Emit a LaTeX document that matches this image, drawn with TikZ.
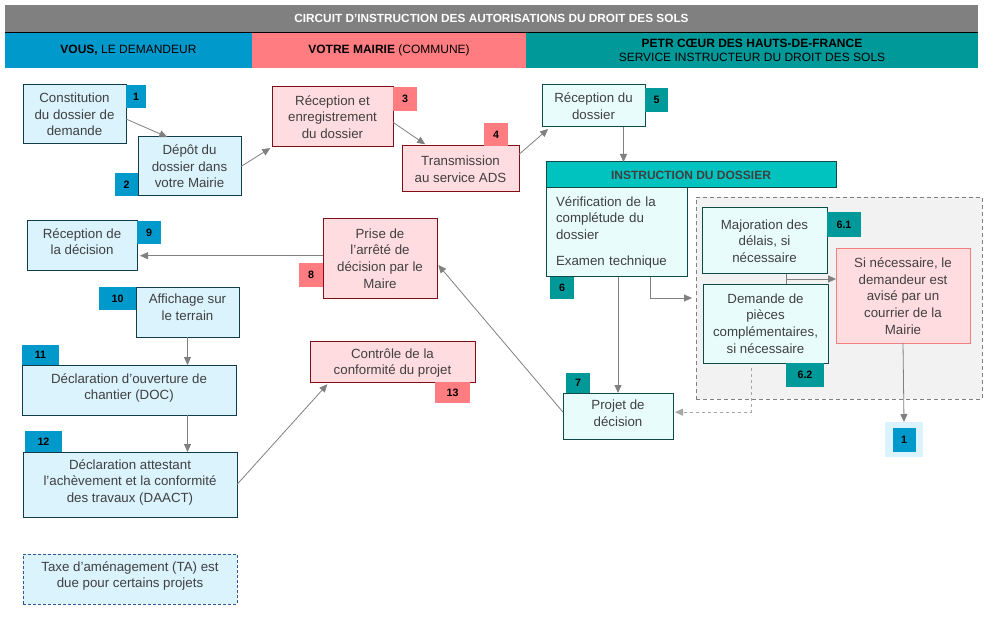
\documentclass[tikz,border=0pt]{standalone}
\usepackage{fontspec}
\setmainfont{Liberation Sans}
\usetikzlibrary{arrows.meta,positioning,calc}
\definecolor{bandgray}{HTML}{808080}
\definecolor{bandblue}{HTML}{0099CC}
\definecolor{bandpink}{HTML}{FF7C80}
\definecolor{bandteal}{HTML}{009999}
\definecolor{blfill}{HTML}{DAF3FD}
\definecolor{blline}{HTML}{123B4C}
\definecolor{pkfill}{HTML}{FFDCE0}
\definecolor{pkline}{HTML}{7F0F12}
\definecolor{tlfill}{HTML}{E9FCFC}
\definecolor{tlline}{HTML}{0E4B47}
\definecolor{tlhead}{HTML}{00C3C0}
\definecolor{zonefill}{HTML}{F2F2F2}
\definecolor{txtgray}{HTML}{404040}
\definecolor{arrgray}{HTML}{808080}
\definecolor{dashgray}{HTML}{A6A6A6}
\definecolor{softred}{HTML}{F08080}
\definecolor{taxline}{HTML}{2F5597}

\begin{document}
\begin{tikzpicture}[x=1pt,y=-1pt,
  every node/.style={inner sep=0pt,outer sep=0pt,align=center,text=txtgray,
    font=\fontsize{13.3}{16.6}\selectfont},
  boxsz/.style 2 args={minimum width=#1pt,minimum height=#2pt},
  blbox/.style={draw=blline,fill=blfill,line width=1pt},
  pkbox/.style={draw=pkline,fill=pkfill,line width=1pt},
  tlbox/.style={draw=tlline,fill=tlfill,line width=1pt},
  hd/.style={text=black,font=\fontsize{12}{14}\selectfont},
  nb/.style={text=black,font=\fontsize{10.7}{12}\selectfont\bfseries},
  conn/.style={draw=arrgray,line width=0.8pt,-{Triangle[length=8pt,width=7pt]}}]

\useasboundingbox[fill=white] (0,0) rectangle (998,628);

\node[fill=bandgray,boxsz={973}{27},text=white,font=\fontsize{11.8}{14}\selectfont\bfseries] (title) at (491.5,18.5) {CIRCUIT D’INSTRUCTION DES AUTORISATIONS DU DROIT DES SOLS};
\node[fill=bandblue,boxsz={247}{36},hd,anchor=north west] (bvous) at (title.south west) {\textbf{VOUS,} LE DEMANDEUR};
\node[fill=bandpink,boxsz={274}{36},hd,right=0pt of bvous] (bmairie) {\textbf{VOTRE MAIRIE} (COMMUNE)};
\node[fill=bandteal,boxsz={452}{36},hd,right=0pt of bmairie] (bpetr) {\textbf{PETR CŒUR DES HAUTS-DE-FRANCE}\\SERVICE INSTRUCTEUR DU DROIT DES SOLS};
\draw[black,line width=0.8pt] (title.south west) -- (title.south east);

\node[draw=arrgray,dash pattern=on 4pt off 3pt,fill=zonefill,line width=0.8pt,boxsz={286}{202}] (zone) at (839,298) {};

\node[blbox,boxsz={103}{59}] (C1) at (74.5,114.5) {Constitution\\du dossier de\\demande};
\node[blbox,boxsz={103}{59}] (C2) at (189.5,166.5) {Dépôt du\\dossier dans\\votre Mairie};
\node[pkbox,boxsz={121}{60}] (M3) at (332.5,117) {Réception et\\enregistrement\\du dossier};
\node[pkbox,boxsz={117}{46}] (M4) at (460.5,169) {Transmission\\au service ADS};
\node[tlbox,boxsz={103}{42}] (S5) at (593.5,106) {Réception du\\dossier};
\node[tlbox,fill=tlhead,boxsz={290}{26},font=\fontsize{12}{14}\selectfont\bfseries] (ihead) at (691,175) {INSTRUCTION DU DOSSIER};
\node[tlbox,anchor=north west,align=left,text width=121pt,inner xsep=10pt,minimum height=89pt] (S6) at (ihead.south west) {Vérification de la\\complétude du\\dossier\\[10pt]Examen technique};
\node[tlbox,boxsz={125}{66}] (D61) at (764.5,241) {Majoration des\\délais, si\\nécessaire};
\node[tlbox,boxsz={125}{79}] (D62) at (765.5,323.5) {Demande de\\pièces\\complémentaires,\\si nécessaire};
\node[draw=softred,fill=pkfill,line width=1pt,boxsz={134}{94}] (Si) at (903,296) {Si nécessaire, le\\demandeur est\\avisé par un\\courrier de la\\Mairie};
\node[tlbox,boxsz={110}{46},text depth=6pt] (S7) at (618,416) {Projet de\\décision};
\node[pkbox,boxsz={114}{79}] (M8) at (380,258.5) {Prise de\\l’arrêté de\\décision par le\\Maire};
\node[blbox,boxsz={110}{50},text depth=9pt] (C9) at (82,246) {Réception de\\la décision};
\node[blbox,boxsz={103}{50},text depth=10pt] (C10) at (187.5,312) {Affichage sur\\le terrain};
\node[blbox,boxsz={214}{50},text depth=7pt] (C11) at (129,390) {Déclaration d’ouverture de\\chantier (DOC)};
\node[blbox,boxsz={214}{65},text depth=7pt] (C12) at (130,484.5) {Déclaration attestant\\l’achèvement et la conformité\\des travaux (DAACT)};
\node[pkbox,boxsz={165}{41},text depth=0pt] (M13) at (392.5,361.5) {Contrôle de la\\conformité du projet};
\node[draw=taxline,dash pattern=on 3pt off 2pt,fill=blfill,line width=0.8pt,boxsz={214}{50},text depth=9pt] (tax) at (130,579) {Taxe d’aménagement (TA) est\\due pour certains projets};

\node[nb,fill=bandblue,boxsz={20}{23},anchor=north west] (n1) at (C1.north east) {1};
\node[nb,fill=bandblue,boxsz={23}{23},anchor=south east] (n2) at (C2.south west) {2};
\node[nb,fill=bandpink,boxsz={24}{24},anchor=north west] (n3) at (M3.north east) {3};
\node[nb,fill=bandpink,boxsz={24}{23},anchor=south east] (n4) at ([xshift=-11pt]M4.north east) {4};
\node[nb,fill=bandteal,boxsz={23}{24},anchor=north west] (n5) at ([yshift=-3pt]S5.north east) {5};
\node[nb,fill=bandteal,boxsz={24}{22},anchor=north west] (n6) at ([xshift=4pt]S6.south west) {6};
\node[nb,fill=bandteal,boxsz={34}{25},anchor=north west] (n61) at ([yshift=-4pt]D61.north east) {6.1};
\node[nb,fill=bandteal,boxsz={38}{24},anchor=north east] (n62) at ([xshift=-4pt]D62.south east) {6.2};
\node[nb,fill=bandteal,boxsz={24}{20},anchor=south west] (n7) at ([xshift=3pt]S7.north west) {7};
\node[nb,fill=bandpink,boxsz={24}{24},anchor=north east] (n8) at ([yshift=-44pt]M8.north west) {8};
\node[nb,fill=bandblue,boxsz={24}{23},anchor=north west] (n9) at (C9.north east) {9};
\node[nb,fill=bandblue,boxsz={37}{23},anchor=north east] (n10) at (C10.north west) {10};
\node[nb,fill=bandblue,boxsz={37}{20},anchor=south west] (n11) at (C11.north west) {11};
\node[nb,fill=bandblue,boxsz={37}{21},anchor=south west] (n12) at ([xshift=2pt]C12.north west) {12};
\node[nb,fill=bandpink,boxsz={35}{21},anchor=north east] (n13) at ([xshift=-5pt]M13.south east) {13};
\node[fill=blfill,boxsz={38}{35}] (F1) at (904,439.5) {};
\node[nb,fill=bandblue,boxsz={23}{24}] (F1n) at (F1) {1};

\draw[conn] (C1.-5) -- (C2.127);
\draw[conn,shorten >=2pt] (C2.east) -- (M3.south west);
\draw[conn,shorten >=3pt] (M3.-5) -- (M4.145);
\draw[conn,shorten >=3pt] (M4.14) -- (S5.206);
\draw[conn] (S5.-35) -- (S5.-35 |- ihead.north);
\draw[conn] (S7.north |- S6.south) -- (S7.north);
\draw[conn,shorten >=4pt] (S6.-53) |- (zone.west);
\draw[arrgray,line width=0.8pt] (D61.-56) -- (D61.-56 |- D62.north);
\coordinate (mj) at ($(D61.-56)!0.5!(D61.-56 |- D62.north)$);
\draw[conn] (mj) -- (mj -| Si.west);
\draw[conn,draw=dashgray,dashed,shorten <=5pt,shorten >=2pt] (D62.-110) |- (S7.4);
\draw[conn] (Si.south) -- (F1.north);
\draw[conn,shorten >=2pt] (S7.176) -- (M8.-5);
\draw[conn,shorten >=3pt] (C9.-10 -| M8.west) -- (C9.-10);
\draw[conn] (C10.south) -- (C10.south |- C11.north);
\draw[conn] (C10.south |- C11.south) -- (C10.south |- C12.north);
\draw[conn,shorten >=3pt] (C12.east) -- (M13.198);
\end{tikzpicture}
\end{document}
